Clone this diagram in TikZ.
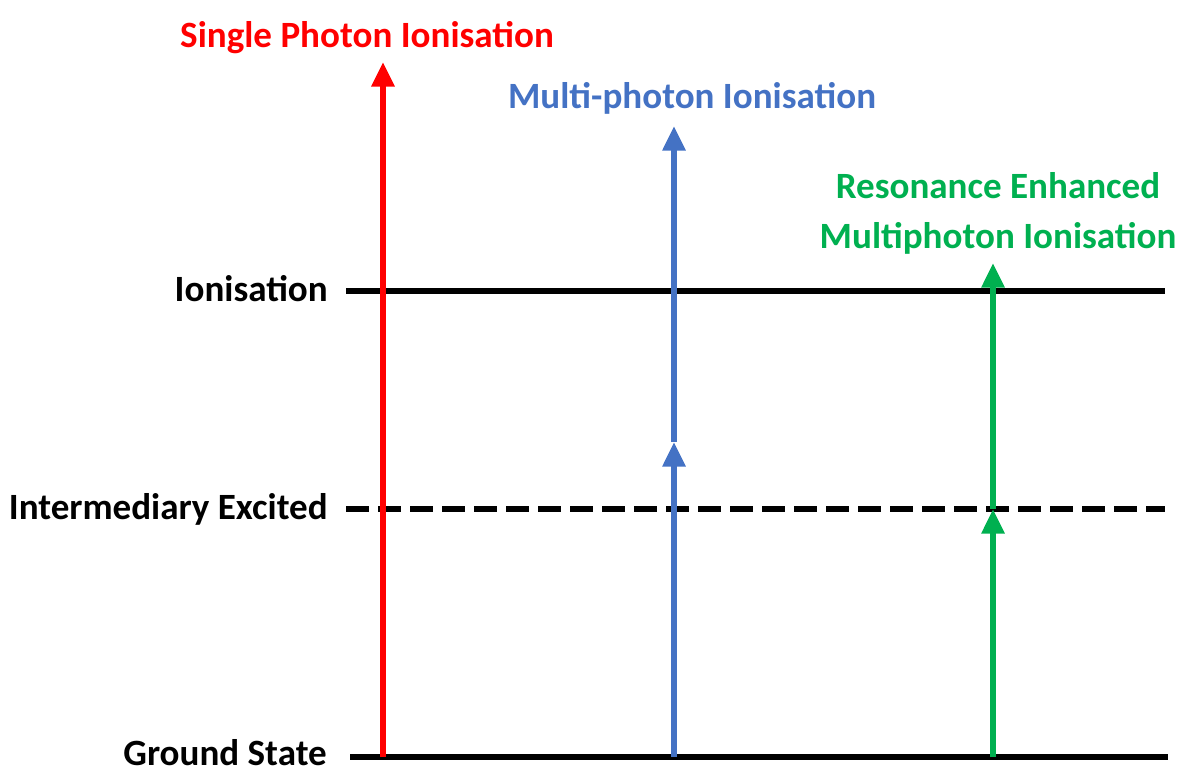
\documentclass[tikz,border=0pt]{standalone}
\usepackage{fontspec}
\setmainfont{Carlito}
\usetikzlibrary{arrows.meta}
\definecolor{spired}{RGB}{255,0,0}
\definecolor{mpiblue}{RGB}{68,114,196}
\definecolor{rempigreen}{RGB}{0,176,80}
\begin{document}
\begin{tikzpicture}[x=0.75pt, y=-0.75pt,
  font=\bfseries\fontsize{27.8}{37.5}\selectfont,
  level/.style={line width=4.5pt},
  photon/.style={line width=4.5pt, -{Triangle[length=18.5pt, width=16.5pt]}},
  lbl/.style={inner sep=0pt, anchor=base east}]
  \useasboundingbox (0,0) rectangle (1181,769);
  % levels: y = 291, 509, 757 (pixels, y grows downwards)
  \coordinate (ion0) at (346,291);   \coordinate (ion1) at (1165,291);
  \coordinate (mid0) at (346,509);   \coordinate (mid1) at (1165,509);
  \coordinate (gnd0) at (350,757);   \coordinate (gnd1) at (1168,757);
  % photon columns
  \coordinate (s0) at (383,757);  \coordinate (s1) at (383,62);
  \coordinate (m0) at (674,757);  \coordinate (m1) at (674,442);  \coordinate (m2) at (674,126);
  \coordinate (r0) at (993,757);  \coordinate (r1) at (993,509);  \coordinate (r2) at (993,263);
  \draw[level] (ion0) -- (ion1);
  \draw[level, dash pattern=on 17.5pt off 6.5pt] (mid0) -- (mid1);
  \draw[level] (gnd0) -- (gnd1);
  \draw[photon, spired] (s0) -- (s1);
  \draw[photon, mpiblue] (m0) -- (m1);
  \draw[photon, mpiblue] (m1) -- (m2);
  \draw[photon, rempigreen] (r0) -- (r1);
  \draw[photon, rempigreen] (r1) -- (r2);
  % level names
  \node[lbl] (ionlbl) at (328,301) {Ionisation};
  \node[lbl] (midlbl) at (328,519) {Intermediary Excited};
  \node[lbl] (gndlbl) at (327,765) {Ground State};
  % process names
  \node[inner sep=0pt, anchor=base, text=spired] (spilbl) at (367,47) {Single Photon Ionisation};
  \node[inner sep=0pt, anchor=base, text=mpiblue] (mpilbl) at (692,108) {Multi-photon Ionisation};
  \node[inner sep=0pt, align=center, text=rempigreen] (rempilbl) at (998,213)
    {Resonance Enhanced\\Multiphoton Ionisation};
\end{tikzpicture}
\end{document}
